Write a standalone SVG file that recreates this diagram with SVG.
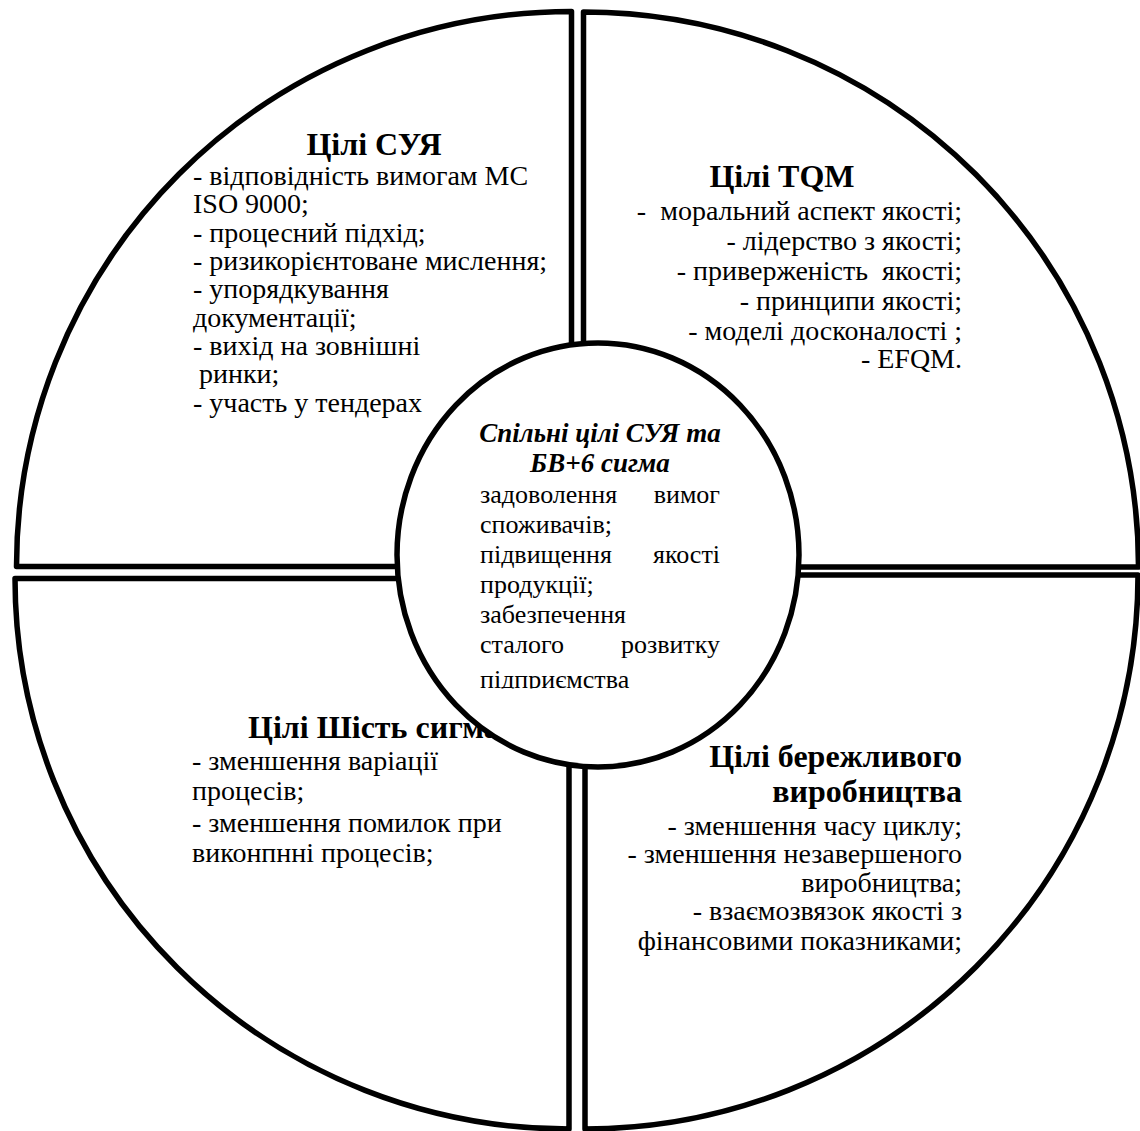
<svg xmlns="http://www.w3.org/2000/svg" width="1140" height="1131" viewBox="0 0 1140 1131">
  <style>
    .sector { fill: #ffffff; stroke: #000000; stroke-width: 5.5; stroke-linejoin: round; }
    .hub { fill: #ffffff; stroke: #000000; stroke-width: 5.5; }
    text { font-family: "Liberation Serif", "Times New Roman", serif; fill: #000000; }
    .head { font-size: 32px; font-weight: bold; }
    .body { font-size: 28px; }
    .hubbody { font-size: 26px; }
    .hubhead { font-size: 27px; font-weight: bold; font-style: italic; }
    .mid { text-anchor: middle; }
    .end { text-anchor: end; }
  </style>
  <defs>
    <!-- text frame of the hub: the last line runs past its lower edge -->
    <clipPath id="hubClip">
      <rect x="470" y="400" width="270" height="288.5"/>
    </clipPath>
  </defs>
  <rect width="1140" height="1131" fill="#ffffff"/>

  <!-- top-left sector: quality management system goals -->
  <g id="sector-qms">
    <path class="sector" d="M571.5,566.5 L16.5,566.5 A555,555 0 0 1 571.5,11.5 Z"/>
    <text class="head mid" x="374" y="155">Цілі СУЯ</text>
    <text class="body" x="193" y="185">- відповідність вимогам МС</text>
    <text class="body" x="193" y="213">ISO 9000;</text>
    <text class="body" x="193" y="242">- процесний підхід;</text>
    <text class="body" x="193" y="270">- ризикорієнтоване мислення;</text>
    <text class="body" x="193" y="298">- упорядкування</text>
    <text class="body" x="193" y="327">документації;</text>
    <text class="body" x="193" y="355">- вихід на зовнішні</text>
    <text class="body" x="199" y="383">ринки;</text>
    <text class="body" x="193" y="412">- участь у тендерах</text>
  </g>

  <!-- top-right sector: TQM goals -->
  <g id="sector-tqm">
    <path class="sector" d="M583.5,567 L583.5,12 A555,555 0 0 1 1138.5,567 Z"/>
    <text class="head mid" x="782" y="187">Цілі TQM</text>
    <text class="body end" x="962" y="220" xml:space="preserve">-  моральний аспект якості;</text>
    <text class="body end" x="962" y="250">- лідерство з якості;</text>
    <text class="body end" x="962" y="280" xml:space="preserve">- приверженість  якості;</text>
    <text class="body end" x="962" y="310">- принципи якості;</text>
    <text class="body end" x="962" y="340">- моделі досконалості ;</text>
    <text class="body end" x="962" y="368">- EFQM.</text>
  </g>

  <!-- bottom-left sector: Six Sigma goals -->
  <g id="sector-sixsigma">
    <path class="sector" d="M569,578.5 L569,1129 A554,550.5 0 0 1 15,578.5 Z"/>
    <text class="head" x="248" y="738">Цілі Шість сигма</text>
    <text class="body" x="192" y="770">- зменшення варіації</text>
    <text class="body" x="192" y="800">процесів;</text>
    <text class="body" x="192" y="832">- зменшення помилок при</text>
    <text class="body" x="192" y="862">виконпнні процесів;</text>
  </g>

  <!-- bottom-right sector: lean production goals -->
  <g id="sector-lean">
    <path class="sector" d="M585,575 L1138,575 A553,554 0 0 1 585,1129 Z"/>
    <text class="head end" x="962" y="767">Цілі бережливого</text>
    <text class="head end" x="962" y="802">виробництва</text>
    <text class="body end" x="962" y="835">- зменшення часу циклу;</text>
    <text class="body end" x="962" y="863">- зменшення незавершеного</text>
    <text class="body end" x="962" y="892">виробництва;</text>
    <text class="body end" x="962" y="920">- взаємозвязок якості з</text>
    <text class="body end" x="962" y="950">фінансовими показниками;</text>
  </g>

  <!-- central hub: shared goals -->
  <g id="hub-shared">
    <ellipse class="hub" cx="598" cy="555" rx="201" ry="212"/>
    <g clip-path="url(#hubClip)">
      <text class="hubhead mid" x="600" y="442">Спільні цілі СУЯ та</text>
      <text class="hubhead mid" x="600" y="472">БВ+6 сигма</text>
      <text class="hubbody" x="480" y="503">задоволення</text>
      <text class="hubbody end" x="720" y="503">вимог</text>
      <text class="hubbody" x="480" y="533">споживачів;</text>
      <text class="hubbody" x="480" y="563">підвищення</text>
      <text class="hubbody end" x="720" y="563">якості</text>
      <text class="hubbody" x="480" y="593">продукції;</text>
      <text class="hubbody" x="480" y="623">забезпечення</text>
      <text class="hubbody" x="480" y="653">сталого</text>
      <text class="hubbody end" x="720" y="653">розвитку</text>
      <text class="hubbody" x="480" y="688">підприємства</text>
    </g>
  </g>
</svg>
